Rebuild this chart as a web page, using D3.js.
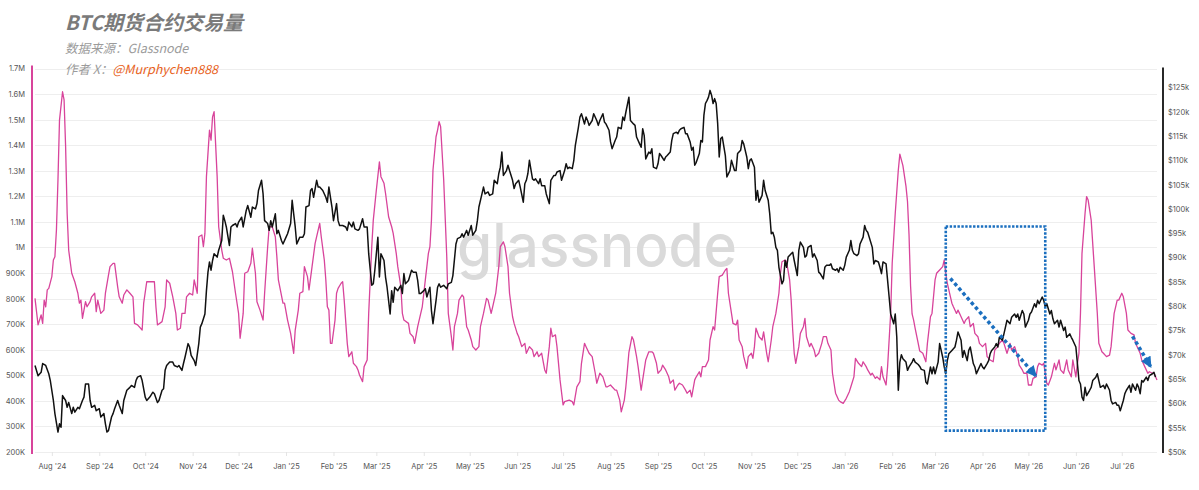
<!DOCTYPE html>
<html>
<head>
<meta charset="utf-8">
<script src="https://cdn.jsdelivr.net/npm/d3@7"></script>
<style>
  html, body { margin: 0; padding: 0; background: #fff; }
  svg { display: block; }
</style>
</head>
<body>
<div id="chart"></div>
<script>
// all series are keyed by days counted from 2024-07-21
const START = Date.UTC(2024, 6, 21);

// [day, BTC futures volume, thousands of contracts]
const futuresVolume = [
  [0,801],[2,697],[4,736],[5,703],[6,794],[7,768],[8,834],[9,840],[11,886],[12,951],[13,964],[14,1068],[15,1264],[16,1498],[18,1609],[19,1577],[20,1394],[21,1134],[22,990],[24,899],[26,866],[28,821],[29,782],[30,794],[31,723],[33,788],[34,768],[36,788],[37,807],[39,821],[40,749],[41,794],[43,742],[45,755],[46,821],[48,892],[49,925],[51,938],[52,938],[54,846],[55,807],[57,782],[58,814],[60,834],[62,821],[64,807],[65,703],[67,697],[70,677],[71,782],[73,866],[75,866],[78,866],[79,768],[80,697],[83,710],[85,768],[86,873],[88,860],[90,807],[92,742],[93,677],[95,684],[96,742],[98,742],[99,807],
  [101,821],[103,814],[104,873],[106,821],[107,1042],[109,1049],[110,1003],[111,1055],[112,1277],[114,1459],[115,1420],[116,1511],[117,1531],[119,1277],[120,1081],[122,990],[123,958],[125,951],[127,958],[129,905],[131,821],[133,742],[134,645],[136,742],[137,899],[139,905],[141,938],[142,997],[144,899],[145,788],[147,755],[149,716],[150,821],[152,1003],[153,1081],[155,1081],[157,1042],[158,964],[159,873],[162,782],[163,782],[165,716],[167,664],[169,586],[170,677],[172,755],[173,821],[175,827],[176,925],[178,886],[179,834],[181,925],[183,1016],[184,1042],[186,1094],[187,1042],[189,951],[190,873],[191,768],[192,755],[193,625],[194,625],[196,716],[197,821],[198,840],
  [200,860],[201,866],[202,794],[204,625],[205,573],[207,592],[208,547],[210,534],[211,521],[212,501],[214,475],[215,534],[217,560],[218,742],[220,1003],[221,1107],[223,1225],[225,1335],[226,1277],[228,1251],[229,1212],[231,1120],[233,1081],[234,1055],[236,977],[237,925],[239,847],[240,742],[241,716],[244,703],[245,664],[247,651],[248,625],[250,690],[252,742],[253,768],[255,873],[257,977],[258,1003],[259,1107],[260,1303],[262,1433],[263,1459],[264,1492],[265,1472],[267,1264],[269,964],[270,742],[272,651],[273,599],[274,690],[276,742],[277,794],[279,814],[280,807],[282,690],[283,677],[285,638],[286,612],[288,599],[290,612],[291,690],[293,742],[295,801],[296,794],[298,742],[299,768],
  [301,821],[303,925],[304,1003],[306,1022],[307,1003],[309,925],[310,821],[312,729],[313,703],[315,664],[316,651],[318,612],[320,625],[321,586],[323,612],[325,599],[326,573],[328,592],[329,573],[331,586],[333,521],[334,508],[336,612],[337,684],[338,651],[340,658],[341,612],[343,482],[345,384],[346,397],[349,403],[351,397],[352,384],[354,455],[356,475],[357,547],[359,625],[360,612],[362,586],[364,573],[366,508],[367,469],[369,508],[371,494],[373,455],[374,455],[376,462],[377,455],[379,442],[380,442],[382,403],[383,357],[385,403],[386,455],[387,521],[388,590],[390,651],[391,638],[393,573],[394,534],[396,442],[397,482],[399,560],
  [401,592],[403,592],[404,586],[406,547],[407,508],[409,521],[410,540],[412,521],[414,494],[415,469],[417,482],[418,442],[420,462],[421,469],[423,462],[425,442],[426,430],[428,442],[429,416],[431,482],[432,494],[434,514],[435,494],[436,534],[438,534],[440,560],[441,638],[443,690],[444,677],[446,821],[447,886],[449,892],[451,912],[452,918],[453,821],[455,742],[456,703],[458,697],[459,716],[460,638],[462,612],[463,573],[465,527],[466,573],[468,586],[469,566],[470,612],[471,684],[473,651],[475,638],[476,670],[478,586],[479,553],[481,638],[482,690],[484,742],[486,821],[487,899],[488,944],[490,951],[491,944],[493,873],[494,794],[495,677],[496,586],[497,547],[499,612],
  [500,664],[502,690],[503,723],[504,651],[506,612],[507,625],[509,599],[510,573],[512,586],[514,625],[515,651],[517,651],[518,625],[520,599],[521,508],[523,430],[525,403],[526,397],[528,390],[530,410],[532,436],[533,455],[535,494],[536,566],[538,547],[540,534],[541,553],[543,534],[544,521],[546,501],[547,508],[549,488],[550,494],[552,482],[553,534],[554,494],[556,462],[557,534],[559,742],[560,938],[562,1134],[564,1303],[565,1365],[567,1320],[569,1240],[570,1180],[571,1050],[572,850],[573,740],[574,716],[575,684],[577,625],[578,595],[580,586],[582,553],[583,625],[585,729],[586,742],[588,873],[589,899],[591,912],[593,925],[594,951],[595,899],[596,860],[597,834],[599,782],
  [600,768],[602,742],[603,755],[605,729],[607,703],[608,716],[610,729],[611,690],[613,703],[614,664],[616,651],[617,625],[619,612],[621,625],[622,573],[624,560],[626,553],[627,599],[629,612],[630,625],[632,638],[633,625],[635,586],[637,625],[638,599],[640,612],[642,573],[643,540],[645,521],[646,508],[648,508],[649,462],[651,462],[652,488],[654,494],[655,534],[656,547],[658,540],[659,547],[661,469],[662,462],[664,494],[666,547],[667,521],[669,560],[670,521],[672,508],[674,560],[675,521],[677,494],[678,560],[680,494],[681,547],[682,586],[683,742],[684,977],[686,1134],[687,1199],[688,1186],[690,1107],[692,925],[694,742],[695,625],[697,592],[698,586],
  [700,573],[702,579],[703,612],[705,742],[707,794],[708,794],[710,821],[711,807],[713,742],[714,677],[716,664],[718,658],[719,625],[721,599],[722,586],[723,560],[725,534],[727,508],[728,514],[730,508],[731,508],[733,482]
];

// [day, BTC price, $k]
const btcPrice = [
  [0,67.8],[2,65.7],[4,66.4],[5,68.2],[7,67.8],[9,66.1],[10,64.7],[12,60.6],[13,57.9],[15,54.1],[16,55.8],[17,55.1],[18,61.6],[20,60.6],[21,59.2],[22,60.2],[24,57.9],[25,59.2],[26,58.2],[28,59.2],[29,58.9],[31,60.6],[32,61.3],[33,64.0],[35,64.0],[36,60.6],[37,59.2],[39,59.6],[40,58.5],[42,58.9],[43,57.2],[45,57.9],[46,55.8],[47,54.1],[48,54.4],[50,57.2],[51,57.9],[52,58.9],[54,60.6],[55,59.6],[57,57.9],[58,60.6],[60,62.7],[62,63.3],[63,63.7],[65,63.3],[66,64.7],[67,65.4],[69,65.7],[70,64.7],[72,61.3],[73,60.6],[75,61.3],[77,62.3],[78,62.0],[80,60.2],[81,60.6],[83,62.7],[84,63.0],[85,66.8],[86,67.8],[88,68.5],[90,68.5],[91,67.8],[93,67.5],[94,67.8],[96,66.8],[97,68.2],[98,69.5],
  [100,72.3],[101,71.6],[102,69.9],[104,68.8],[105,67.8],[107,72.3],[108,75.7],[109,76.4],[111,78.4],[112,83.2],[113,87.0],[114,89.1],[115,87.4],[116,89.4],[117,90.8],[119,90.1],[120,91.5],[122,93.5],[123,98.7],[124,97.6],[125,96.3],[127,92.5],[128,96.3],[129,96.6],[131,97.0],[132,96.3],[133,97.3],[135,98.3],[136,96.3],[138,99.7],[139,100.7],[141,98.3],[142,100.4],[144,100.0],[145,101.1],[146,103.8],[148,105.9],[149,103.1],[150,97.6],[152,97.0],[153,95.6],[154,97.6],[155,96.3],[157,99.0],[158,94.9],[159,95.6],[161,93.5],[162,92.8],[164,94.2],[165,94.9],[167,97.0],[168,101.8],[169,99.0],[170,96.3],[171,92.8],[173,94.2],[175,94.2],[176,94.9],[177,100.4],[179,100.7],[180,103.8],[181,104.2],[182,102.4],[184,105.9],[185,104.5],[186,104.5],[188,103.8],[190,102.4],[191,101.4],[192,104.5],[194,100.4],[195,97.6],[197,101.1],[198,97.6],[199,96.6],
  [201,96.6],[203,96.3],[204,95.6],[205,97.3],[207,96.3],[208,97.3],[209,95.9],[211,95.6],[212,95.9],[214,98.0],[215,96.3],[217,96.3],[218,90.8],[220,84.3],[221,84.6],[222,87.4],[224,94.2],[225,86.0],[226,90.8],[228,89.4],[229,86.0],[230,83.9],[232,78.4],[233,83.2],[234,80.8],[235,83.9],[237,83.2],[239,84.3],[240,82.6],[241,86.7],[242,84.6],[244,85.3],[246,87.4],[247,87.0],[249,87.0],[250,85.3],[251,82.6],[252,82.6],[254,83.2],[255,83.6],[256,81.9],[258,83.9],[259,79.1],[260,76.4],[262,81.2],[263,83.9],[264,84.6],[265,83.9],[267,84.3],[269,83.6],[270,84.6],[272,84.9],[273,86.3],[275,92.8],[276,93.9],[278,94.2],[279,94.9],[280,94.2],[282,95.6],[283,94.6],[285,96.6],[286,94.6],[288,95.6],[289,97.6],[290,100.4],[292,103.1],[293,104.5],[294,103.1],[296,103.5],[297,102.8],[299,103.1],
  [300,105.9],[302,105.2],[303,107.3],[304,108.6],[305,111.7],[306,106.9],[308,107.9],[309,109.0],[310,107.9],[312,105.9],[313,104.2],[314,105.2],[316,105.9],[317,104.5],[319,101.4],[320,105.2],[321,105.9],[322,107.3],[323,110.0],[325,106.2],[326,105.9],[327,106.2],[329,105.2],[330,106.2],[331,104.8],[333,104.8],[334,103.1],[336,101.1],[337,105.9],[339,106.9],[340,106.9],[341,107.6],[343,107.9],[344,105.9],[346,107.9],[347,109.3],[348,108.3],[349,108.6],[351,108.3],[352,110.0],[353,113.1],[355,116.8],[356,118.9],[357,119.6],[359,117.5],[360,118.9],[361,118.2],[362,117.2],[364,118.2],[365,119.6],[367,118.2],[368,117.2],[369,118.2],[371,119.6],[372,117.9],[373,117.5],[375,116.2],[376,113.8],[377,112.4],[379,114.1],[380,114.8],[381,116.8],[383,116.5],[384,118.9],[385,118.2],[386,119.9],[388,123.0],[389,118.2],[391,117.5],[392,117.2],[393,114.8],[395,113.4],[396,112.7],[397,116.5],[398,115.1],[399,110.3],
  [401,111.7],[402,111.4],[403,112.4],[404,108.6],[406,108.3],[407,109.3],[408,111.4],[409,111.0],[411,110.0],[412,110.7],[413,111.0],[415,111.7],[416,114.1],[417,115.5],[419,115.8],[420,115.5],[421,116.2],[422,116.5],[424,116.8],[425,115.5],[426,115.5],[428,113.8],[429,112.1],[430,112.7],[431,109.0],[432,109.6],[434,111.4],[435,114.1],[436,113.8],[437,119.3],[438,121.7],[439,122.3],[440,123.0],[441,124.4],[442,123.4],[443,121.7],[444,122.7],[445,121.7],[446,117.5],[447,110.7],[448,114.5],[449,114.8],[451,111.0],[452,106.6],[454,107.9],[455,110.0],[457,107.9],[458,107.9],[459,111.4],[461,112.1],[462,114.1],[463,113.4],[465,110.7],[466,108.3],[467,110.0],[468,110.3],[470,108.6],[471,101.8],[472,103.8],[473,101.4],[475,102.8],[476,105.9],[477,103.8],[479,101.8],[480,99.0],[481,94.9],[482,95.2],[483,94.2],[484,92.1],[485,91.5],[486,88.0],[488,84.6],[489,85.3],[490,89.4],[491,88.0],[492,90.1],[494,90.8],[495,91.1],[496,89.4],[498,86.3],[499,91.5],
  [500,93.2],[502,92.1],[503,90.1],[504,90.4],[505,92.1],[507,92.5],[508,90.1],[509,90.8],[511,89.4],[512,87.0],[513,86.7],[515,85.6],[516,88.0],[517,88.4],[519,88.4],[520,88.7],[521,87.7],[523,87.4],[524,87.7],[525,87.0],[526,88.0],[528,87.4],[529,88.4],[530,90.1],[532,91.5],[533,93.5],[534,91.5],[535,90.8],[537,90.4],[538,90.8],[539,92.8],[541,94.2],[542,96.6],[543,95.6],[544,95.2],[545,94.2],[547,92.1],[548,88.7],[549,89.4],[551,89.1],[552,88.0],[553,86.7],[554,89.1],[556,88.7],[557,85.3],[558,81.9],[559,78.4],[561,76.4],[562,78.4],[563,73.6],[564,62.7],[565,68.5],[566,70.0],[567,69.2],[569,68.5],[570,66.8],[571,67.5],[573,68.5],[574,69.2],[575,68.5],[577,68.0],[578,67.6],[579,67.0],[581,66.8],[582,64.4],[583,64.0],[585,67.5],[586,66.1],[587,67.5],[588,66.1],[590,68.5],[591,72.3],[593,69.5],[594,67.5],[595,66.1],[596,68.8],[597,70.2],[599,70.9],
  [601,71.6],[602,73.0],[603,74.7],[605,73.0],[606,69.5],[607,70.9],[609,68.8],[610,70.9],[611,71.6],[613,68.2],[614,67.5],[615,66.1],[616,66.8],[618,68.2],[619,67.5],[620,67.1],[622,68.2],[623,68.8],[624,70.2],[625,70.9],[627,71.6],[628,72.3],[629,71.6],[630,73.6],[632,73.0],[633,74.3],[634,75.7],[635,77.1],[637,76.4],[638,77.7],[640,78.4],[641,77.7],[642,78.4],[643,77.1],[645,79.1],[646,78.4],[647,75.7],[649,77.1],[650,78.4],[651,78.8],[653,80.5],[654,79.8],[655,81.2],[656,80.5],[658,81.9],[659,81.2],[660,79.8],[661,80.5],[663,78.4],[664,79.1],[665,77.4],[666,76.4],[668,77.1],[669,75.7],[670,77.1],[672,75.0],[673,75.7],[674,73.6],[676,74.3],[677,73.6],[678,73.0],[680,71.6],[681,68.2],[682,64.7],[683,64.0],[684,61.3],[685,60.6],[686,63.3],[687,61.6],[689,62.7],[690,63.3],[691,64.7],[693,65.4],[694,66.1],[695,64.7],[696,63.3],[698,63.7],[699,63.0],
  [700,64.0],[702,62.7],[703,60.6],[704,59.9],[706,60.2],[707,59.6],[708,59.6],[709,58.5],[711,60.6],[712,62.0],[713,62.7],[715,63.7],[716,62.3],[717,64.0],[719,62.7],[720,64.0],[721,63.3],[722,62.0],[723,64.7],[724,64.4],[726,65.4],[727,64.7],[728,65.7],[730,66.1],[731,66.4],[732,65.4]
];

const volumeTicks = d3.range(200, 1701, 100);   // thousands
const priceTicks = d3.range(50, 126, 5);        // $k
const lastDay = 733;

// annotation drawn by the author: dotted box and two downward trend arrows
const highlight = { fromDay: 595, toDay: 660, lowK: 54.4, highK: 96.4 };
const trendArrows = [
  { fromDay: 598, fromK: 85.7, toDay: 654, toK: 65.6 },
  { fromDay: 717, fromK: 73.8, toDay: 729, toK: 67.5 }
];

const width = 1199, height = 490;
const plot = { left: 35, right: 1157, top: 68.5, bottom: 452 };
const PINK = "#d8449b", BLUE = "#1b6fbf";

const toDate = d => d3.utcDay.offset(new Date(START), d);

const svg = d3.select("#chart").append("svg")
    .attr("width", width)
    .attr("height", height);

const x = d3.scaleUtc()
    .domain([toDate(0), toDate(lastDay)])
    .range([plot.left, plot.right]);
const yVol = d3.scaleLinear().domain([200, 1700]).range([plot.bottom, plot.top]);
const yPrice = d3.scaleLinear().domain([50, 128.9]).range([plot.bottom, plot.top]);

// gridlines follow the left axis
svg.append("g")
    .selectAll("line")
    .data(volumeTicks)
    .join("line")
    .attr("x1", plot.left)
    .attr("x2", plot.right)
    .attr("y1", d => Math.round(yVol(d)) + 0.5)
    .attr("y2", d => Math.round(yVol(d)) + 0.5)
    .attr("stroke", "#eeeeee");

// watermark
svg.append("text")
    .attr("x", 597)
    .attr("y", 267)
    .attr("text-anchor", "middle")
    .attr("textLength", 280)
    .attr("lengthAdjust", "spacingAndGlyphs")
    .style("font", "500 60px Inter, 'Noto Sans', sans-serif")
    .attr("fill", "#dadada")
    .text("glassnode");

// series
const volLine = d3.line()
    .x(d => x(toDate(d[0])))
    .y(d => yVol(d[1]));
const priceLine = d3.line()
    .x(d => x(toDate(d[0])))
    .y(d => yPrice(d[1]));

svg.append("path")
    .datum(futuresVolume)
    .attr("d", volLine)
    .attr("fill", "none")
    .attr("stroke", PINK)
    .attr("stroke-width", 1.3)
    .attr("stroke-linejoin", "round");

svg.append("path")
    .datum(btcPrice)
    .attr("d", priceLine)
    .attr("fill", "none")
    .attr("stroke", "#111")
    .attr("stroke-width", 1.5)
    .attr("stroke-linejoin", "round");

// left axis
const fmtVol = v => v >= 1000 ? (v / 1000) + "M" : v + "K";
svg.append("g")
    .attr("transform", `translate(${plot.left - 3},0)`)
    .call(d3.axisLeft(yVol).tickValues(volumeTicks).tickSize(0).tickPadding(7).tickFormat(fmtVol))
    .call(g => g.select(".domain").remove())
    .selectAll("text")
    .attr("fill", "#555")
    .style("font", "7.5px Inter, sans-serif");

svg.append("line")
    .attr("x1", plot.left - 3).attr("x2", plot.left - 3)
    .attr("y1", plot.top - 3).attr("y2", plot.bottom + 2)
    .attr("stroke", PINK)
    .attr("stroke-width", 2);

// right axis
const rightX = plot.right + 6;
svg.append("g")
    .attr("transform", `translate(${rightX},0)`)
    .call(d3.axisRight(yPrice).tickValues(priceTicks).tickSize(0).tickPadding(5).tickFormat(d => "$" + d + "k"))
    .call(g => g.select(".domain").remove())
    .selectAll("text")
    .attr("fill", "#555")
    .style("font", "7.5px Inter, sans-serif");

svg.append("line")
    .attr("x1", rightX).attr("x2", rightX)
    .attr("y1", plot.top - 1).attr("y2", plot.bottom + 1)
    .attr("stroke", "#111")
    .attr("stroke-width", 1.8);

// bottom axis
svg.append("g")
    .attr("transform", `translate(0,${plot.bottom})`)
    .call(d3.axisBottom(x).ticks(d3.utcMonth.every(1)).tickFormat(d3.utcFormat("%b '%y")).tickSize(4).tickPadding(8))
    .call(g => g.select(".domain").remove())
    .call(g => g.selectAll(".tick line").attr("stroke", "#e4e4e4"))
    .selectAll("text")
    .attr("fill", "#555")
    .style("font", "7.5px Inter, sans-serif");

// annotation
const defs = svg.append("defs");
defs.append("marker")
    .attr("id", "arrowHead")
    .attr("viewBox", "0 0 10 10")
    .attr("refX", 9)
    .attr("refY", 5)
    .attr("markerUnits", "userSpaceOnUse")
    .attr("markerWidth", 12)
    .attr("markerHeight", 11)
    .attr("orient", "auto")
    .append("path")
    .attr("d", "M0,0L10,5L0,10Z")
    .attr("fill", BLUE);

svg.append("rect")
    .attr("x", x(toDate(highlight.fromDay)))
    .attr("y", yPrice(highlight.highK))
    .attr("width", x(toDate(highlight.toDay)) - x(toDate(highlight.fromDay)))
    .attr("height", yPrice(highlight.lowK) - yPrice(highlight.highK))
    .attr("fill", "none")
    .attr("stroke", BLUE)
    .attr("stroke-width", 2.6)
    .attr("stroke-dasharray", "2.4 1.5");

svg.append("g")
    .selectAll("line")
    .data(trendArrows)
    .join("line")
    .attr("x1", d => x(toDate(d.fromDay)))
    .attr("y1", d => yPrice(d.fromK))
    .attr("x2", d => x(toDate(d.toDay)))
    .attr("y2", d => yPrice(d.toK))
    .attr("stroke", BLUE)
    .attr("stroke-width", 3.5)
    .attr("stroke-dasharray", "3.5 2.8")
    .attr("marker-end", "url(#arrowHead)");

// titles
svg.append("text")
    .attr("x", 65)
    .attr("y", 30)
    .style("font", "italic bold 20px 'Noto Sans CJK SC', sans-serif")
    .attr("fill", "#7a7a7a")
    .text("BTC期货合约交易量");

svg.append("text")
    .attr("x", 65)
    .attr("y", 53)
    .style("font", "italic 12.5px 'Noto Sans CJK SC', sans-serif")
    .attr("fill", "#9b9b9b")
    .text("数据来源：Glassnode");

const author = svg.append("text")
    .attr("x", 65)
    .attr("y", 74)
    .style("font", "italic 12.5px 'Noto Sans CJK SC', sans-serif");
author.append("tspan").attr("fill", "#9b9b9b").text("作者 X：");
author.append("tspan").attr("fill", "#e8621c").text("@Murphychen888");
</script>
</body>
</html>
